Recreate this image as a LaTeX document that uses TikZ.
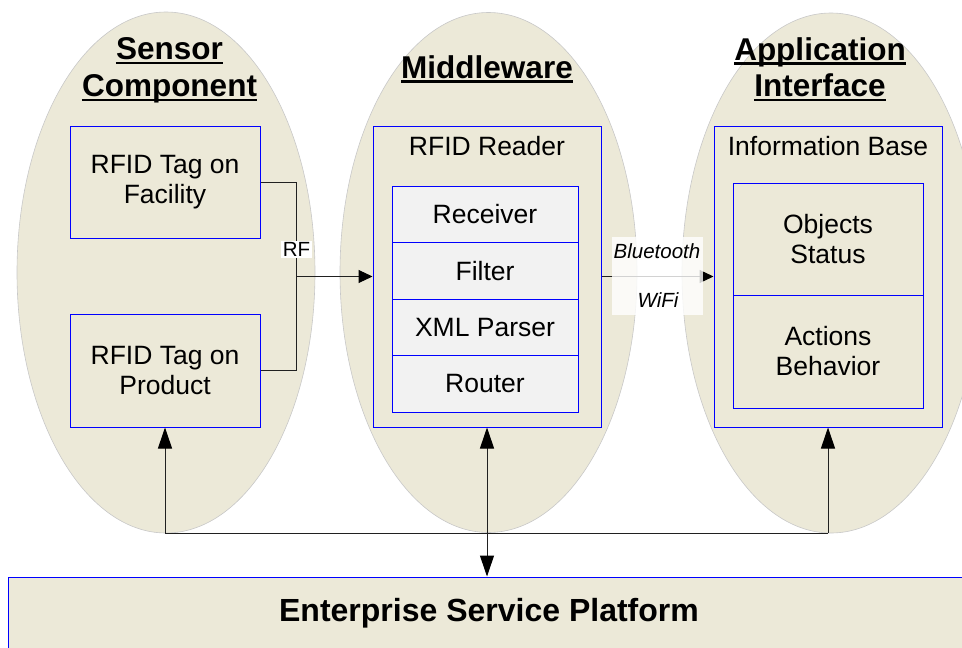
\documentclass[tikz,border=0pt]{standalone}
\usepackage{fontspec}
\setmainfont{Liberation Sans}
\usetikzlibrary{arrows.meta}
\definecolor{paper}{HTML}{ECE9D8}
\definecolor{rowgray}{HTML}{F2F2F2}
\definecolor{rim}{HTML}{C8C8C8}
\definecolor{wire}{HTML}{202020}

\begin{document}
\begin{tikzpicture}[x=1pt,y=-1pt,
  region/.style={fill=paper,draw=rim,line width=0.6pt},
  titletext/.style={font=\fontsize{31.5}{37}\selectfont\bfseries,inner sep=0pt,anchor=base},
  uline/.style={line width=2.8pt},
  body/.style={font=\fontsize{26.5}{30}\selectfont,align=center},
  tagbox/.style={body,draw=blue,fill=paper,line width=1pt,inner sep=0pt,
    minimum width=190pt,minimum height=112pt},
  holder/.style={draw=blue,fill=paper,line width=1pt,inner sep=0pt,
    minimum width=228pt,minimum height=301pt},
  rowbox/.style={body,draw=blue,fill=rowgray,line width=1pt,inner sep=0pt,
    minimum width=186pt,minimum height=56.5pt},
  small/.style={font=\fontsize{20.5}{24}\selectfont},
  smallit/.style={font=\fontsize{20.5}{24}\selectfont\itshape},
  link/.style={draw=wire,line width=1pt},
  uparrow/.style={link,-{Triangle[length=21pt,width=14pt,color=black]}},
  sidearrow/.style={link,-{Triangle[length=14pt,width=13pt,color=black]}}
]
\useasboundingbox (0,0) rectangle (962,648);
\clip (0,0) rectangle (962,648);

% three tiers
\filldraw[region] (166,272.5) ellipse [x radius=149pt, y radius=260.5pt];
\filldraw[region] (488.5,272.5) ellipse [x radius=148.5pt, y radius=260pt];
\filldraw[region] (831,273) ellipse [x radius=149pt, y radius=260pt];

% tier titles
\node[titletext] (s1) at (169.5,59.5) {Sensor};
\node[titletext] (s2) at (169.5,96.5) {Component};
\node[titletext] (m1) at (487,78) {Middleware};
\node[titletext] (a1) at (820,60) {Application};
\node[titletext] (a2) at (820,96.5) {Interface};
\foreach \t in {s1,s2,m1,a1,a2}
  \draw[uline] ([yshift=-3.5pt]\t.base west) -- ([yshift=-3.5pt]\t.base east);

% sensor tags
\node[tagbox] (fac) at (165,182) {RFID Tag on\\Facility};
\node[tagbox,minimum height=113pt] (prod) at (165,370.5) {RFID Tag on\\Product};

% middleware: reader and its stages
\node[holder] (reader) at (487,276.5) {};
\node[body] (readertitle) at (487,146) {RFID Reader};
\node[rowbox] (recv) at (485,214.25) {Receiver};
\node[rowbox] (filt) at (485,270.75) {Filter};
\node[rowbox] (xml)  at (485,327.25) {XML Parser};
\node[rowbox] (rout) at (485,383.75) {Router};

% application interface: information base
\node[holder] (info) at (828,276.5) {};
\node[body] (infotitle) at (828,146) {Information Base};
\node[tagbox] (obj) at (828,239) {Objects\\Status};
\node[tagbox,minimum height=113pt] (act) at (828,351.5) {Actions\\Behavior};

% enterprise platform
\node[draw=blue,fill=paper,line width=1pt,inner sep=0pt,
  minimum width=962pt,minimum height=90pt] (esp) at (489,622) {};
\node[font=\fontsize{32}{38}\selectfont\bfseries,inner sep=0pt,anchor=base]
  (esptext) at (489,621.5) {Enterprise Service Platform};

% RF link from the tags to the reader
\coordinate (rfbus) at (296,276.5);
\draw[link] (fac.east) -- ++(36,0) |- (prod.east);
\draw[sidearrow] (rfbus) -- (reader.west);
\node[small,fill=white,inner sep=1.5pt] (rf) at (296.5,249.5) {RF};

% wireless link from the reader to the information base
\draw[sidearrow] (reader.east) -- (info.west);
\node[fill=white,fill opacity=0.8,minimum width=91pt,minimum height=78pt,inner sep=0pt]
  (wl) at (657.5,276) {};
\node[smallit] (bt) at (657,251) {Bluetooth};
\node[smallit] (wifi) at (658,300) {WiFi};

% platform bus
\coordinate (busL) at (165,533);
\coordinate (busR) at (828,533);
\draw[link] (busL) -- (busR);
\draw[uparrow] (busL) -- (prod.south);
\draw[uparrow] (busR) -- (info.south);
\draw[link,{Triangle[length=21pt,width=14pt,color=black]}-{Triangle[length=21pt,width=14pt,color=black]}]
  (reader.south) -- (reader.south |- esp.north);
\end{tikzpicture}
\end{document}
